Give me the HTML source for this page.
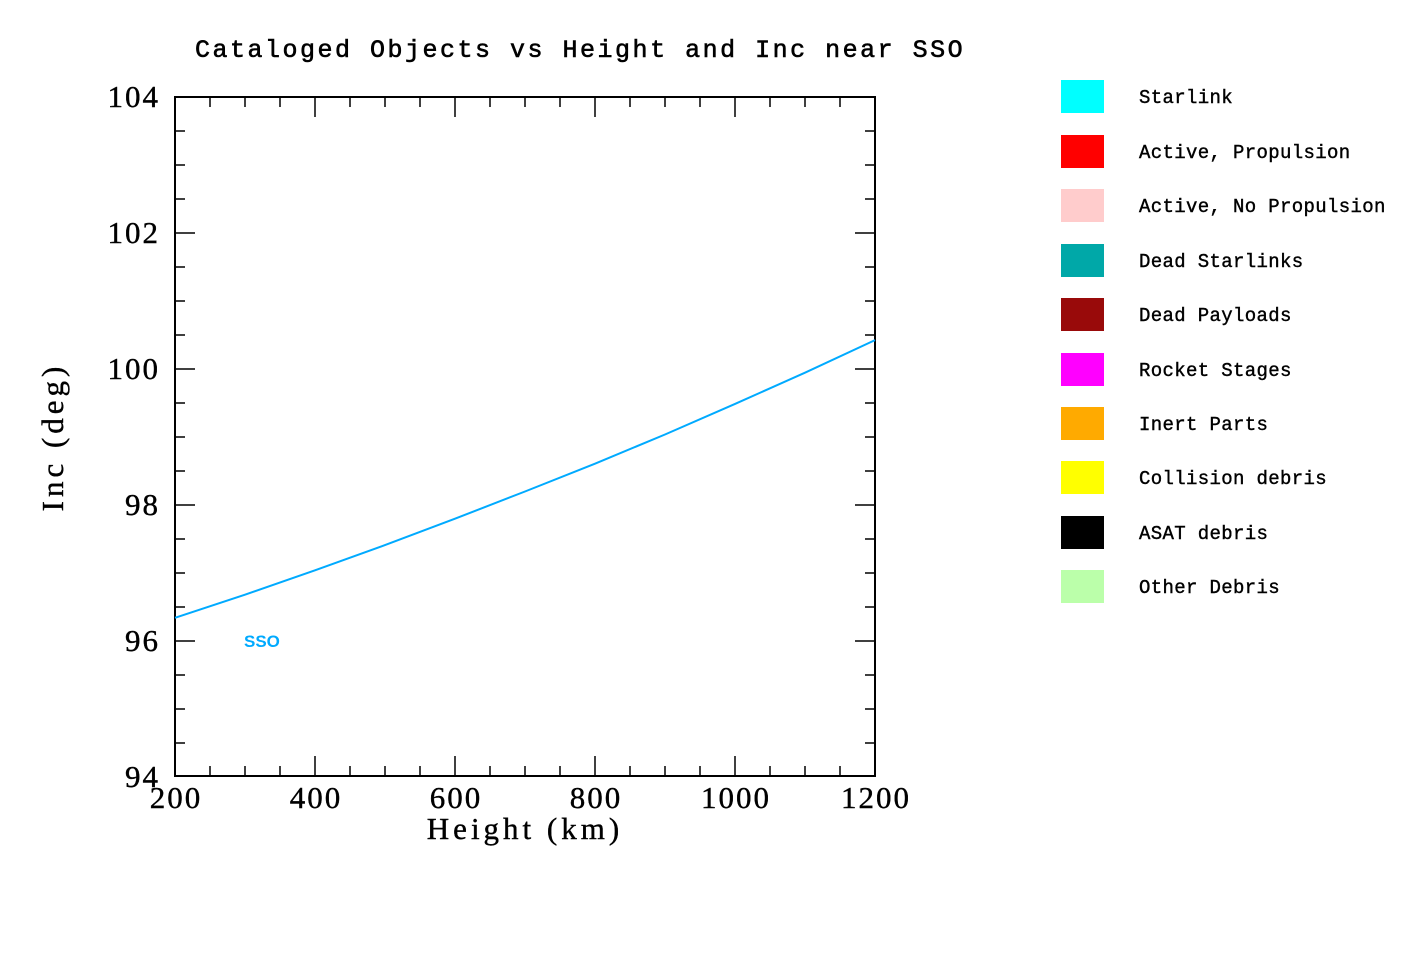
<!DOCTYPE html><html><head><style>body{margin:0;background:#fff}svg{display:block}</style></head><body>
<svg width="1422" height="972" xmlns="http://www.w3.org/2000/svg">
<rect width="1422" height="972" fill="#fff"/>
<text x="195" y="57" font-family="Liberation Mono, monospace" font-size="25" letter-spacing="2.5" fill="#000" stroke="#000" stroke-width="0.6">Cataloged Objects vs Height and Inc near SSO</text>
<rect x="175" y="97" width="700" height="679" fill="none" stroke="#000" stroke-width="2"/>
<g stroke="#000" stroke-width="1.5">
<path d="M175 776v-20M315 776v-20M455 776v-20M595 776v-20M735 776v-20M875 776v-20M175 97v20M315 97v20M455 97v20M595 97v20M735 97v20M875 97v20"/>
<path d="M210 776v-10M245 776v-10M280 776v-10M350 776v-10M385 776v-10M420 776v-10M490 776v-10M525 776v-10M560 776v-10M630 776v-10M665 776v-10M700 776v-10M770 776v-10M805 776v-10M840 776v-10M210 97v10M245 97v10M280 97v10M350 97v10M385 97v10M420 97v10M490 97v10M525 97v10M560 97v10M630 97v10M665 97v10M700 97v10M770 97v10M805 97v10M840 97v10"/>
<path d="M175 233h20M175 369h20M175 505h20M175 641h20M875 233h-20M875 369h-20M875 505h-20M875 641h-20"/>
<path d="M175 131h10M175 165h10M175 199h10M175 267h10M175 301h10M175 335h10M175 403h10M175 437h10M175 471h10M175 539h10M175 573h10M175 607h10M175 675h10M175 709h10M175 743h10M875 131h-10M875 165h-10M875 199h-10M875 267h-10M875 301h-10M875 335h-10M875 403h-10M875 437h-10M875 471h-10M875 539h-10M875 573h-10M875 607h-10M875 675h-10M875 709h-10M875 743h-10"/>
</g>
<g font-family="Liberation Serif, serif" font-size="31" letter-spacing="2" fill="#000" stroke="#000" stroke-width="0.4">
<text x="160" y="107" text-anchor="end">104</text>
<text x="160" y="243" text-anchor="end">102</text>
<text x="160" y="379" text-anchor="end">100</text>
<text x="160" y="515" text-anchor="end">98</text>
<text x="160" y="651" text-anchor="end">96</text>
<text x="160" y="787" text-anchor="end">94</text>
<text x="176" y="808" text-anchor="middle">200</text>
<text x="316" y="808" text-anchor="middle">400</text>
<text x="456" y="808" text-anchor="middle">600</text>
<text x="596" y="808" text-anchor="middle">800</text>
<text x="736" y="808" text-anchor="middle">1000</text>
<text x="876" y="808" text-anchor="middle">1200</text>
<text x="525" y="839" text-anchor="middle" letter-spacing="4">Height (km)</text>
<text transform="translate(63,437) rotate(-90)" text-anchor="middle" letter-spacing="4">Inc (deg)</text>
</g>
<polyline fill="none" stroke="#00aaff" stroke-width="2" points="175,617.8 245,594.7 315,570.3 385,545.1 455,518.7 525,491.5 595,463.7 665,434.5 735,403.9 805,372.7 875,340.1"/>
<text x="244" y="647" font-family="Liberation Sans, sans-serif" font-weight="bold" font-size="17" fill="#00aaff">SSO</text>
<g font-family="Liberation Mono, monospace" font-size="19" letter-spacing="0.35" fill="#000" stroke="#000" stroke-width="0.4">
<rect x="1061" y="80" width="43" height="33" fill="#00ffff" stroke="none"/><text x="1139" y="103">Starlink</text>
<rect x="1061" y="135" width="43" height="33" fill="#ff0000" stroke="none"/><text x="1139" y="158">Active, Propulsion</text>
<rect x="1061" y="189" width="43" height="33" fill="#ffcccc" stroke="none"/><text x="1139" y="212">Active, No Propulsion</text>
<rect x="1061" y="244" width="43" height="33" fill="#00a8a8" stroke="none"/><text x="1139" y="267">Dead Starlinks</text>
<rect x="1061" y="298" width="43" height="33" fill="#990a0a" stroke="none"/><text x="1139" y="321">Dead Payloads</text>
<rect x="1061" y="353" width="43" height="33" fill="#ff00ff" stroke="none"/><text x="1139" y="376">Rocket Stages</text>
<rect x="1061" y="407" width="43" height="33" fill="#ffaa00" stroke="none"/><text x="1139" y="430">Inert Parts</text>
<rect x="1061" y="461" width="43" height="33" fill="#ffff00" stroke="none"/><text x="1139" y="484">Collision debris</text>
<rect x="1061" y="516" width="43" height="33" fill="#000000" stroke="none"/><text x="1139" y="539">ASAT debris</text>
<rect x="1061" y="570" width="43" height="33" fill="#bbffaa" stroke="none"/><text x="1139" y="593">Other Debris</text>
</g>
</svg></body></html>
